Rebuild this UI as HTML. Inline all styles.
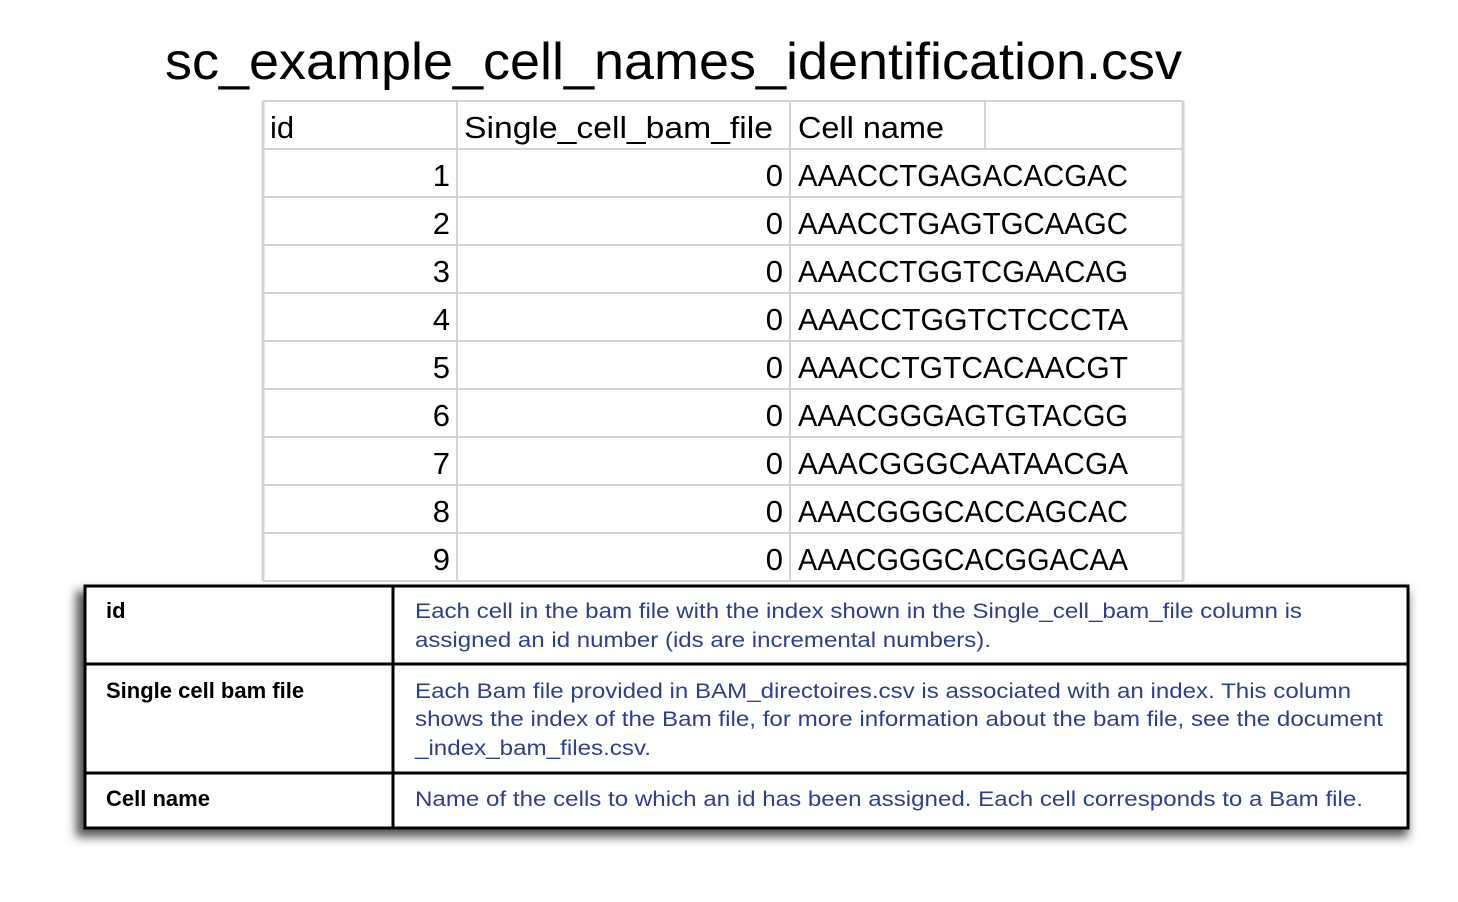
<!DOCTYPE html>
<html><head><meta charset="utf-8"><style>
html,body{margin:0;padding:0;background:#fff;}
svg{display:block;font-family:"Liberation Sans",sans-serif;}
</style></head><body>
<svg width="1458" height="902" viewBox="0 0 1458 902">
<defs><filter id="sh" x="-5%" y="-10%" width="110%" height="130%"><feGaussianBlur stdDeviation="5"/></filter></defs>
<text x="165" y="79" font-size="52" textLength="1017" lengthAdjust="spacingAndGlyphs" fill="#000">sc_example_cell_names_identification.csv</text>
<g id="csv"></g>
<g>
<rect x="76" y="591" width="1332" height="246" fill="#555" filter="url(#sh)"/>
<rect x="85" y="586" width="1323" height="242" fill="#fff" stroke="#000" stroke-width="3"/>
<line x1="393" y1="586" x2="393" y2="828" stroke="#000" stroke-width="3"/>
<line x1="85" y1="664" x2="1408" y2="664" stroke="#000" stroke-width="3"/>
<line x1="85" y1="773" x2="1408" y2="773" stroke="#000" stroke-width="3"/>
<g font-weight="bold" font-size="22" fill="#000">
<text x="106" y="618">id</text>
<text x="106" y="698">Single cell bam file</text>
<text x="106" y="806">Cell name</text>
</g>
<g font-size="21" fill="#2e3f8f">
<text x="415" y="618" textLength="887" lengthAdjust="spacingAndGlyphs">Each cell in the bam file with the index shown in the Single_cell_bam_file column is</text>
<text x="415" y="647" textLength="576" lengthAdjust="spacingAndGlyphs">assigned an id number (ids are incremental numbers).</text>
<text x="415" y="698" textLength="936" lengthAdjust="spacingAndGlyphs">Each Bam file provided in BAM_directoires.csv is associated with an index. This column</text>
<text x="415" y="726" textLength="968" lengthAdjust="spacingAndGlyphs">shows the index of the Bam file, for more information about the bam file, see the document</text>
<text x="415" y="755" textLength="236" lengthAdjust="spacingAndGlyphs">_index_bam_files.csv.</text>
<text x="415" y="806" textLength="948" lengthAdjust="spacingAndGlyphs">Name of the cells to which an id has been assigned. Each cell corresponds to a Bam file.</text>
</g>
</g>
</svg>
<script>
const ids=[1,2,3,4,5,6,7,8,9];
const bamIdx=[0,0,0,0,0,0,0,0,0];
const cellNames=["AAACCTGAGACACGAC","AAACCTGAGTGCAAGC","AAACCTGGTCGAACAG","AAACCTGGTCTCCCTA","AAACCTGTCACAACGT","AAACGGGAGTGTACGG","AAACGGGCAATAACGA","AAACGGGCACCAGCAC","AAACGGGCACGGACAA"];
(function(){
const NS="http://www.w3.org/2000/svg";
const g=document.getElementById('csv');
function el(t,a,txt){const e=document.createElementNS(NS,t);for(const k in a)e.setAttribute(k,a[k]);if(txt!==undefined)e.textContent=txt;g.appendChild(e);return e;}
const tTop=101,rh=48,xs=[263,457,790,985,1183];
const nRows=ids.length+1;
const bottom=Math.min(tTop+rh*nRows,584);
for(let i=0;i<=nRows;i++){const y=tTop+rh*i;if(y>bottom)break;
 const l=el('line',{x1:xs[0],x2:xs[4],y1:y,y2:y,stroke:'#d4d4d4','stroke-width':2});
 
 }
xs.forEach((x,j)=>{const l=el('line',{x1:x,x2:x,y1:tTop,y2:(j===3?tTop+rh:bottom),stroke:'#d4d4d4','stroke-width':(j===0||j===4)?3:2});
 
 });
const hdr=[["id",270],["Single_cell_bam_file",464],["Cell name",798]];
hdr.forEach(h=>{const t=el('text',{x:h[1],y:tTop+37,'font-size':31,fill:'#000'},h[0]);
 if(h[0]==="Single_cell_bam_file"){t.setAttribute('textLength',309);t.setAttribute('lengthAdjust','spacingAndGlyphs');}
 if(h[0]==="Cell name"){t.setAttribute('textLength',146);t.setAttribute('lengthAdjust','spacingAndGlyphs');}
 
 });
ids.forEach((id,i)=>{const y=tTop+rh*(i+1)+37;
 const a=el('text',{x:450,y:y,'font-size':31,'text-anchor':'end',fill:'#000'},String(id));
 
 
 const b=el('text',{x:783,y:y,'font-size':31,'text-anchor':'end',fill:'#000'},String(bamIdx[i]));
 
 
 const c=el('text',{x:798,y:y,'font-size':31,fill:'#000',textLength:330,lengthAdjust:'spacingAndGlyphs'},cellNames[i]);
 
 });
})();
</script>
</body></html>
